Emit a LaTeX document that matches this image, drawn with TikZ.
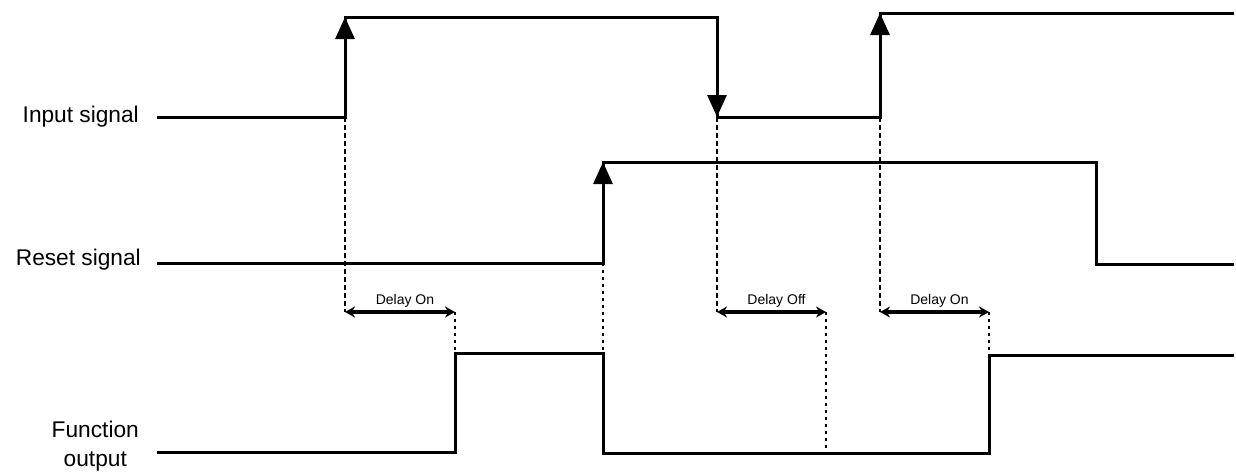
\documentclass[tikz,border=0pt]{standalone}
\usepackage{fontspec}
\setmainfont{Liberation Sans}
\usetikzlibrary{arrows.meta,positioning}

\begin{document}
\begin{tikzpicture}[x=1pt,y=-1pt,
  signal/.style={line width=3pt,line join=miter},
  edgetip/.style={line width=3pt,-{Triangle[length=22pt,width=19pt]}},
  guide/.style={line width=2pt,dash pattern=on 5pt off 3pt},
  guidedot/.style={line width=2pt,dash pattern=on 3pt off 4pt},
  delay/.style={line width=3.2pt,{Stealth[length=10pt,width=11pt]}-{Stealth[length=10pt,width=11pt]}},
  siglabel/.style={font=\fontsize{22.7}{29}\selectfont,anchor=east,align=center,inner sep=0pt},
  delaylabel/.style={font=\fontsize{14}{16}\selectfont,above,xshift=5pt}]
\useasboundingbox (0,0) rectangle (1236,472);

  % Labels
  \node[siglabel] (inlbl) at (139,117) {Input signal};
  \node[siglabel] (rstlbl) at (141,260) {Reset signal};
  \node[siglabel] (outlbl) at (139,446) {Function\\output};

  % Input signal
  \draw[signal] (157,117) -- (345,117) -- (345,17) -- (717,17) -- (717,117)
    -- (880,117) -- (880,13) -- (1234,13);
  \draw[edgetip] (345,117) -- (345,17);
  \draw[edgetip] (717,17) -- (717,117);
  \draw[edgetip] (880,117) -- (880,13);

  % Reset signal
  \draw[signal] (157,263) -- (603,263) -- (603,162) -- (1096,162) -- (1096,264)
    -- (1234,264);
  \draw[edgetip] (603,263) -- (603,162);

  % Function output
  \draw[signal] (157,452) -- (455,452) -- (455,353) -- (603,353) -- (603,453)
    -- (989,453) -- (989,355) -- (1234,355);

  % Time marks
  \coordinate (i1) at (345,117);
  \coordinate (i2) at (717,117);
  \coordinate (i3) at (880,117);
  \coordinate (r1) at (603,263);
  \coordinate (o1) at (455,353);
  \coordinate (o2) at (603,353);
  \coordinate (o3) at (826,453);
  \coordinate (o4) at (989,355);
  \coordinate (d1) at (345,312);
  \coordinate (d2) at (455,312);
  \coordinate (d3) at (717,312);
  \coordinate (d4) at (826,312);
  \coordinate (d5) at (880,312);
  \coordinate (d6) at (989,312);

  % Guide lines
  \draw[guide] (i1) -- (d1);
  \draw[guide] (i2) -- (d3);
  \draw[guide] (i3) -- (d5);
  \draw[guidedot] (d2) -- (o1);
  \draw[guidedot] (r1) -- (o2);
  \draw[guidedot] (d4) -- (o3);
  \draw[guidedot] (d6) -- (o4);

  % Delays
  \draw[delay] (d1) -- node[delaylabel] (don1) {Delay On} (d2);
  \draw[delay] (d3) -- node[delaylabel] (doff) {Delay Off} (d4);
  \draw[delay] (d5) -- node[delaylabel] (don2) {Delay On} (d6);
\end{tikzpicture}
\end{document}
